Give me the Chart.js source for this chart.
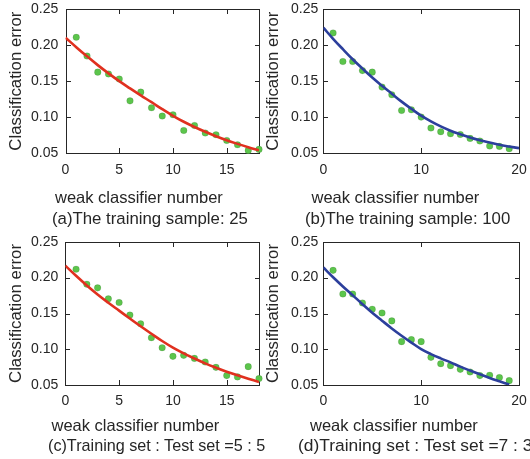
<!DOCTYPE html>
<html>
<head>
<meta charset="utf-8">
<script src="https://cdn.jsdelivr.net/npm/chart.js@4.4.1/dist/chart.umd.min.js"></script>
<style>
    body { margin: 0; background: #fff; width: 530px; height: 459px; position: relative; overflow: hidden;
           font-family: "Liberation Sans", Arial, sans-serif; color: #262626; }
    .panel { position: absolute; width: 270px; height: 190px; }
    .lbl { position: absolute; white-space: nowrap; line-height: 20px; }
</style>
</head>
<body>

<div class="panel" style="left:0;top:0"><canvas id="chartA" width="270" height="190"></canvas></div>
<div class="panel" style="left:260px;top:0"><canvas id="chartB" width="270" height="190"></canvas></div>
<div class="panel" style="left:0;top:229px"><canvas id="chartC" width="270" height="190"></canvas></div>
<div class="panel" style="left:260px;top:229px"><canvas id="chartD" width="270" height="190"></canvas></div>

<div class="lbl" style="left:55px;top:187px;font-size:16.5px">weak classifier number</div>
<div class="lbl" style="left:311.5px;top:187px;font-size:16.5px">weak classifier number</div>
<div class="lbl" style="left:51.5px;top:415px;font-size:16.5px">weak classifier number</div>
<div class="lbl" style="left:310px;top:415px;font-size:16.5px">weak classifier number</div>

<div class="lbl" style="left:52px;top:209px;font-size:16.8px">(a)The training sample: 25</div>
<div class="lbl" style="left:305px;top:209px;font-size:16.8px">(b)The training sample: 100</div>
<div class="lbl" style="left:48px;top:434.5px;font-size:16.2px">(c)Training set : Test set =5 : 5</div>
<div class="lbl" style="left:298px;top:434.5px;font-size:17.4px">(d)Training set : Test set =7 : 3</div>

<script>
// measured points (x = weak classifier number)
const pointsX18 = [1, 2, 3, 4, 5, 6, 7, 8, 9, 10, 11, 12, 13, 14, 15, 16, 17, 18];
const pointsX19 = [1, 2, 3, 4, 5, 6, 7, 8, 9, 10, 11, 12, 13, 14, 15, 16, 17, 18, 19];

const errA = [0.211, 0.185, 0.1625, 0.160, 0.153, 0.1226, 0.1347, 0.113, 0.1014,
              0.1032, 0.0814, 0.0883, 0.0778, 0.0754, 0.0675, 0.0615, 0.0536, 0.055];
const errB = [0.2171, 0.1773, 0.1773, 0.1647, 0.1625, 0.1417, 0.131, 0.1092, 0.1101, 0.100,
              0.0847, 0.0796, 0.0768, 0.0758, 0.0703, 0.0667, 0.0597, 0.0592, 0.056];
const errC = [0.2117, 0.1908, 0.1857, 0.1704, 0.1653, 0.1478, 0.1357, 0.1163, 0.1024,
              0.0903, 0.0917, 0.0875, 0.0825, 0.075, 0.0635, 0.0617, 0.076, 0.0593];
const errD = [0.2101, 0.1772, 0.1772, 0.1647, 0.156, 0.1508, 0.1397, 0.1108, 0.1136, 0.1108,
              0.0889, 0.0801, 0.0774, 0.0722, 0.0686, 0.0635, 0.064, 0.0608, 0.0565];

// fitted curves
const curveX18 = [0, 1, 2, 3, 4, 5, 6, 7, 8, 9, 10, 11, 12, 13, 14, 15, 16, 17, 18];
const curveX19 = [0, 1, 2, 3, 4, 5, 6, 7, 8, 9, 10, 11, 12, 13, 14, 15, 16, 17, 18, 19];
const curveX20 = [0, 1, 2, 3, 4, 5, 6, 7, 8, 9, 10, 11, 12, 13, 14, 15, 16, 17, 18, 19, 20];

const fitA = [0.2106, 0.1973, 0.1845, 0.1723, 0.1608, 0.1500, 0.1400, 0.1302, 0.1207, 0.1110,
              0.1018, 0.0935, 0.0862, 0.0795, 0.0733, 0.0677, 0.0627, 0.0580, 0.0537];
const fitB = [0.2245, 0.2090, 0.1945, 0.1805, 0.1675, 0.1550, 0.1435, 0.1325, 0.1215, 0.1115, 0.1020,
              0.0940, 0.0870, 0.0810, 0.0760, 0.0715, 0.0677, 0.0645, 0.0615, 0.0590, 0.0567];
const fitC = [0.2167, 0.2025, 0.1890, 0.1765, 0.1650, 0.1540, 0.1430, 0.1322, 0.1218, 0.1117,
              0.1025, 0.0945, 0.0873, 0.0805, 0.0745, 0.0690, 0.0640, 0.0592, 0.0546];
const fitD = [0.2140, 0.2005, 0.1877, 0.1755, 0.1630, 0.1510, 0.1400, 0.1292, 0.1190, 0.1095,
              0.1005, 0.0935, 0.0875, 0.0820, 0.0760, 0.0705, 0.0653, 0.0603, 0.0556, 0.0510];

// axis steps: y 0.05..0.25 by 0.05, x labelled every 5 (n = 18) or every 10 (n = 20)
const yStep = 0.05;
const xStep18 = 5;
const xStep20 = 10;

const yTitle = 'Classification error';

const GREEN = '#5cc54c';
const RED = '#e0301f';
const BLUE = '#2c3f9c';
const INK = '#262626';

const toXY = (xs, ys) => xs.map((x, i) => ({ x: x, y: ys[i] }));

// matlab style box with inward ticks, painted as 1px fills
const frameTicks = {
    id: 'frameTicks',
    beforeDatasetsDraw(chart) {
        const ctx = chart.ctx;
        const area = chart.chartArea;
        const sx = chart.scales.x;
        const sy = chart.scales.y;
        const len = 5;
        const l = Math.round(area.left);
        const r = Math.round(area.right);
        const t = Math.round(area.top);
        const b = Math.round(area.bottom);
        ctx.save();
        ctx.fillStyle = INK;
        ctx.fillRect(l, t, r - l + 1, 1);
        ctx.fillRect(l, b, r - l + 1, 1);
        ctx.fillRect(l, t, 1, b - t + 1);
        ctx.fillRect(r, t, 1, b - t + 1);
        sx.ticks.forEach(tk => {
            const px = Math.round(sx.getPixelForValue(tk.value));
            ctx.fillRect(px, b - len, 1, len);
            ctx.fillRect(px, t, 1, len);
        });
        sy.ticks.forEach(tk => {
            const py = Math.round(sy.getPixelForValue(tk.value));
            ctx.fillRect(l, py, len, 1);
            ctx.fillRect(r - len + 1, py, len, 1);
        });
        ctx.restore();
    }
};

function makeChart(id, cfg) {
    return new Chart(document.getElementById(id), {
        type: 'scatter',
        data: {
            datasets: [{
                data: toXY(cfg.curveX, cfg.fit),
                showLine: true,
                borderColor: cfg.lineColor,
                borderWidth: 2.6,
                pointRadius: 0,
                tension: 0.4,
                order: 1
            }, {
                data: toXY(cfg.pointsX, cfg.err),
                backgroundColor: GREEN,
                pointRadius: 3.3,
                clip: false,
                order: 2
            }]
        },
        options: {
            responsive: false,
            animation: false,
            layout: { padding: cfg.padding },
            plugins: { legend: { display: false }, tooltip: { enabled: false } },
            scales: {
                x: {
                    type: 'linear',
                    min: 0,
                    max: cfg.xMax,
                    // hidden grid, its tick length only spaces the labels
                    grid: { display: false, drawTicks: true, tickLength: cfg.xGap },
                    border: { display: false },
                    ticks: {
                        stepSize: cfg.xStep,
                        padding: 0,
                        color: INK,
                        font: { family: 'Liberation Sans', size: 14 },
                        maxRotation: 0,
                        autoSkip: false,
                        callback: v => (v % cfg.xStep === 0 ? v : '')
                    }
                },
                y: {
                    type: 'linear',
                    min: 0.05,
                    max: 0.25,
                    grid: { display: false, drawTicks: true, tickLength: cfg.yGap },
                    border: { display: false },
                    ticks: {
                        stepSize: yStep,
                        padding: 0,
                        color: INK,
                        font: { family: 'Liberation Sans', size: 14 },
                        callback: v => v.toFixed(2)
                    },
                    title: {
                        display: true,
                        text: yTitle,
                        color: INK,
                        padding: { top: 0, bottom: cfg.titleGap },
                        font: { family: 'Liberation Sans', size: 16.8 }
                    }
                }
            }
        },
        plugins: [frameTicks]
    });
}

makeChart('chartA', {
    pointsX: pointsX18, err: errA, curveX: curveX18, fit: fitA, lineColor: RED,
    xMax: 18, xStep: xStep18, xGap: 8.3, yGap: 7.2, titleGap: 4.5,
    padding: { left: 6.4, top: 9.3, right: 11, bottom: 11.9 }
});
makeChart('chartB', {
    pointsX: pointsX19, err: errB, curveX: curveX20, fit: fitB, lineColor: BLUE,
    xMax: 20, xStep: xStep20, xGap: 8.3, yGap: 5, titleGap: 7.5,
    padding: { left: 3.4, top: 9.3, right: 11, bottom: 11.9 }
});
makeChart('chartC', {
    pointsX: pointsX18, err: errC, curveX: curveX18, fit: fitC, lineColor: RED,
    xMax: 18, xStep: xStep18, xGap: 7.3, yGap: 7, titleGap: 4.3,
    padding: { left: 6.6, top: 12.7, right: 11, bottom: 9.6 }
});
makeChart('chartD', {
    pointsX: pointsX19, err: errD, curveX: curveX19, fit: fitD, lineColor: BLUE,
    xMax: 20, xStep: xStep20, xGap: 7.3, yGap: 5, titleGap: 7.7,
    padding: { left: 3.2, top: 12.7, right: 11, bottom: 9.6 }
});
</script>
</body>
</html>
